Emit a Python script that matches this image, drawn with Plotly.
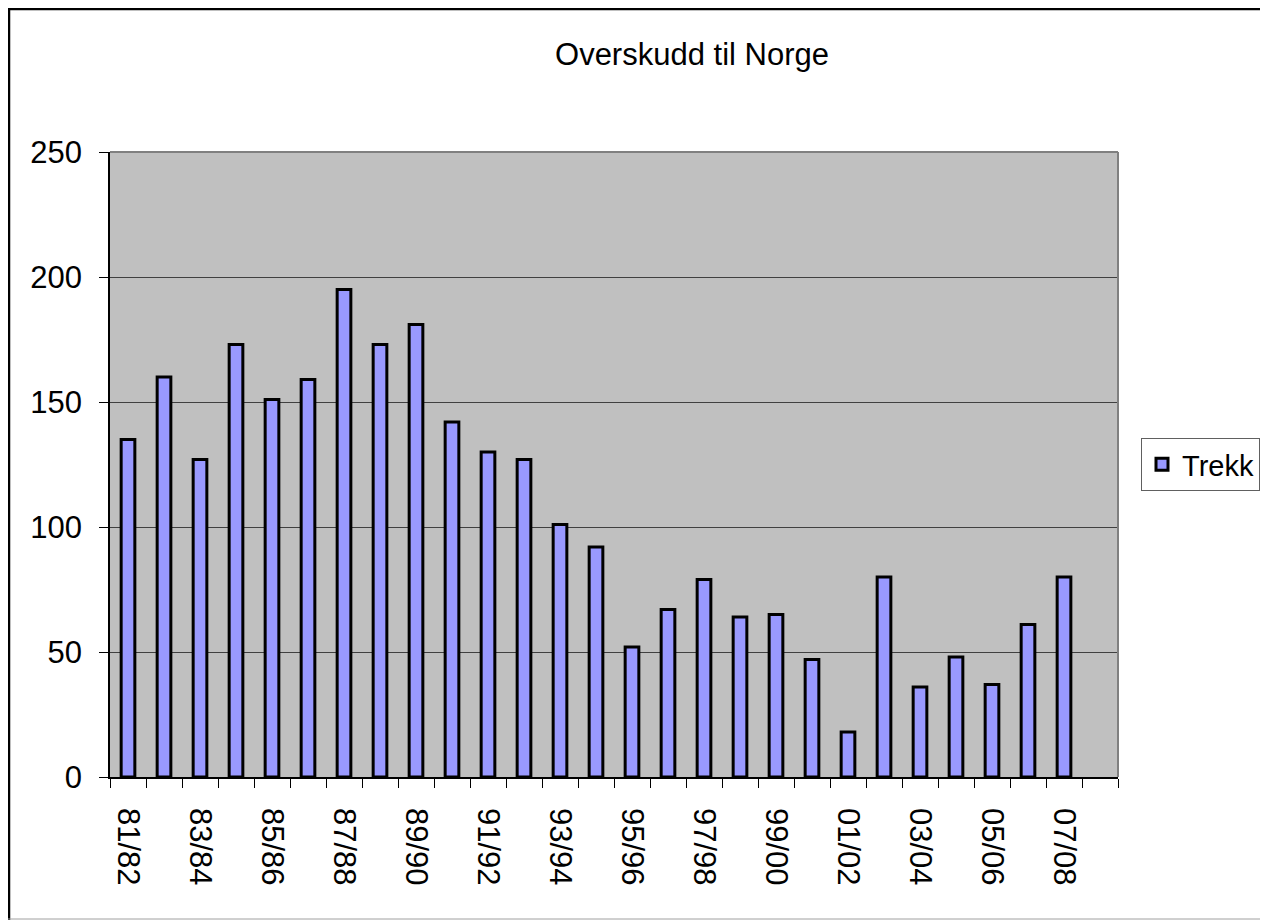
import plotly.graph_objects as go

categories = ["81/82", "82/83", "83/84", "84/85", "85/86", "86/87", "87/88", "88/89",
              "89/90", "90/91", "91/92", "92/93", "93/94", "94/95", "95/96", "96/97",
              "97/98", "98/99", "99/00", "00/01", "01/02", "02/03", "03/04", "04/05",
              "05/06", "06/07", "07/08", "08/09"]
trekk = [135, 160, 127, 173, 151, 159, 195, 173, 181, 142, 130, 127, 101, 92,
         52, 67, 79, 64, 65, 47, 18, 80, 36, 48, 37, 61, 80, None]
tick_text = [c if i % 2 == 0 else "" for i, c in enumerate(categories)]
y_ticks = [0, 50, 100, 150, 200, 250]

FONT = "Arial, Liberation Sans, sans-serif"
# page body has an 8px margin, so the figure fills the rest of the window
W, H = 1260, 912
L, R, T, B = 102, 150, 144, 143
pw, ph = W - L - R, H - T - B

def px_x(px):
    return (px - L) / pw

def px_y(py):
    return (H - B - py) / ph

fig = go.Figure()
fig.add_trace(go.Bar(
    x=categories, y=trekk, name="Trekk",
    width=0.38,
    marker=dict(color="#9999FF", line=dict(color="black", width=3)),
))

fig.update_layout(
    width=W, height=H,
    margin=dict(l=L, r=R, t=T, b=B, autoexpand=False),
    paper_bgcolor="white",
    plot_bgcolor="#C0C0C0",
    font=dict(family=FONT, size=31, color="black"),
    title=dict(text="Overskudd til Norge", x=684 / W, xanchor="center",
               y=1 - 46 / H, yanchor="middle", font=dict(size=31, family=FONT)),
    showlegend=True,
    legend=dict(xref="container", yref="container",
                x=1133 / W, y=1 - 430 / H, xanchor="left", yanchor="top",
                bgcolor="white", bordercolor="#606060", borderwidth=1,
                font=dict(size=29, family=FONT)),
)

fig.update_xaxes(
    type="category", categoryorder="array", categoryarray=categories,
    range=[-0.5, len(categories) - 0.5],
    tickmode="array", tickvals=categories, ticktext=tick_text,
    tickson="boundaries", ticks="outside", ticklen=9, tickcolor="black", tickwidth=1,
    tickangle=90, ticklabelstandoff=23,
    showline=True, linecolor="black", linewidth=1.5,
    showgrid=False, zeroline=False, mirror=False,
)
fig.update_yaxes(
    range=[0, 250], tickmode="array", tickvals=y_ticks,
    ticks="outside", ticklen=9, tickcolor="black", tickwidth=1,
    ticklabelstandoff=11,
    showline=True, linecolor="black", linewidth=1.5,
    showgrid=True, gridcolor="#404040", gridwidth=1,
    zeroline=False,
)

# plot area border (top/right in gray)
fig.add_shape(type="line", xref="paper", yref="paper", x0=0, x1=1, y0=1, y1=1,
              line=dict(color="#808080", width=2))
fig.add_shape(type="line", xref="paper", yref="paper", x0=1, x1=1, y0=0, y1=1,
              line=dict(color="#808080", width=2))

# outer chart frame
fig.add_shape(type="rect", xref="paper", yref="paper",
              x0=px_x(1), x1=px_x(1270), y0=px_y(1), y1=px_y(930),
              line=dict(color="black", width=2.5), layer="above")
fig.add_shape(type="line", xref="paper", yref="paper",
              x0=px_x(0), x1=px_x(1270), y0=px_y(911), y1=px_y(911),
              line=dict(color="#A0A0A0", width=1))

fig.write_html("out.html")
